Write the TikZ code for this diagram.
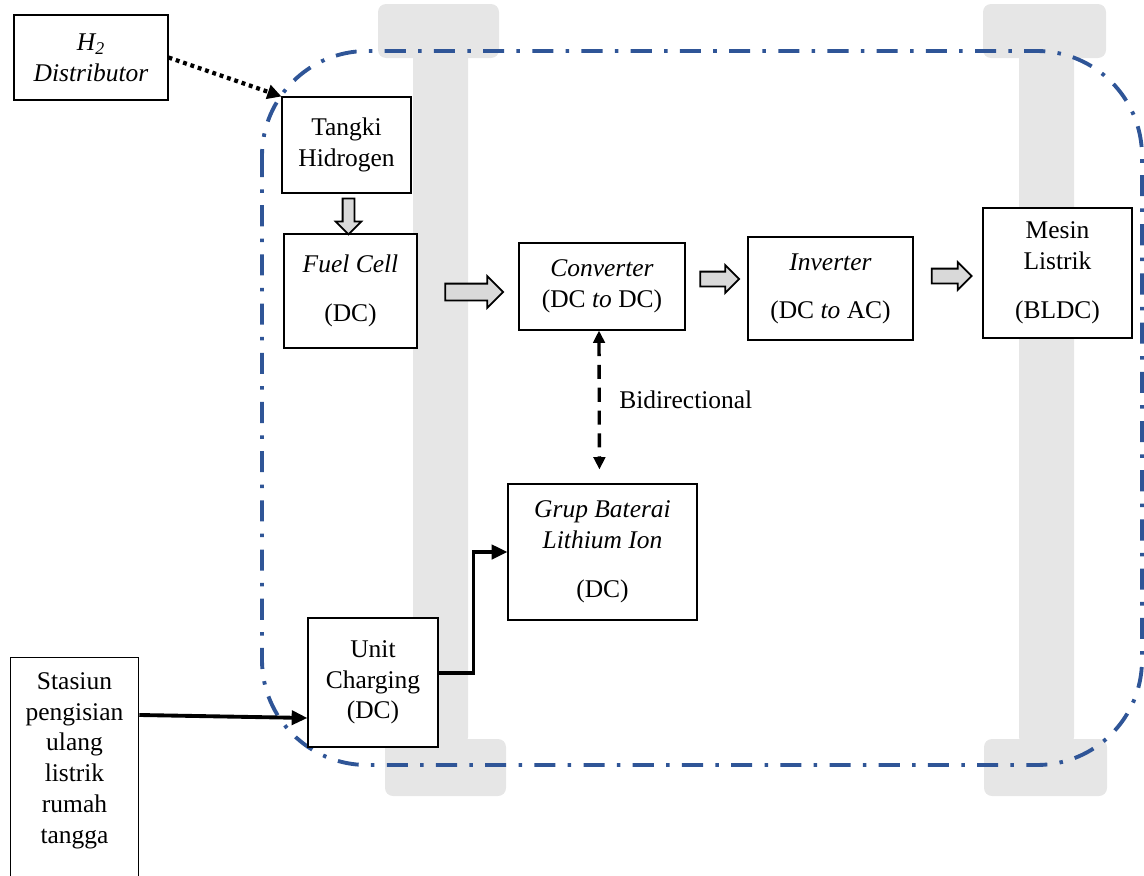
\documentclass[tikz,border=0pt]{standalone}
\usepackage{fontspec}
\setmainfont{Liberation Serif}
\usetikzlibrary{arrows.meta,positioning,calc,shapes.arrows}
\definecolor{axlegray}{RGB}{230,230,230}
\definecolor{frameblue}{RGB}{47,85,151}
\definecolor{flowgray}{RGB}{217,217,217}

\begin{document}
\begin{tikzpicture}[x=0.02cm, y=-0.02cm,
  box/.style={rectangle, draw=black, line width=0.6pt, fill=white, align=center,
    inner sep=2pt, font=\fontsize{14.5pt}{17.5pt}\selectfont},
  axle/.style={fill=axlegray, rounded corners=0.16cm},
  flow/.style={single arrow, draw=black, fill=flowgray, line width=1pt, inner xsep=0pt,
    inner ysep=0.15cm, minimum width=0pt, single arrow head extend=0.15cm},
  power/.style={-{Triangle[length=9pt,width=8pt]}, line width=2.2pt},
  bidir/.style={{Triangle[length=7pt,width=6.5pt]}-{Triangle[length=7pt,width=6.5pt]},
    line width=1.9pt, dash pattern=on 8pt off 5pt},
  supply/.style={-{Triangle[length=8pt,width=8pt]}, line width=2.4pt, dash pattern=on 2.2pt off 2.2pt},
  frame/.style={draw=frameblue, line width=2.2pt, rounded corners=2.1cm,
    dash pattern=on 12pt off 7pt on 2pt off 7pt},
  note/.style={font=\fontsize{14.5pt}{17.5pt}\selectfont}
]
\useasboundingbox (0,0) rectangle (1144,876);
\clip (0,0) rectangle (1144,876);

% axles
\fill[axle] (378,4) rectangle (499,58);
\fill[axle] (413,50) rectangle (468,745);
\fill[axle] (385,739) rectangle (506,796);
\fill[axle] (983,4) rectangle (1106,58);
\fill[axle] (1019,50) rectangle (1074,745);
\fill[axle] (984,739) rectangle (1107,796);

% vehicle outline
\draw[frame] (262,51) rectangle (1142,765);

\node[box, minimum width=3.08cm, minimum height=1.7cm] (dist) at (91,57.5) {\textit{H\textsubscript{2}}\\\textit{Distributor}};
\node[box, minimum width=2.58cm, minimum height=1.92cm] (tank) at (346.5,145) {Tangki\\Hidrogen};
\node[box, minimum width=2.66cm, minimum height=2.28cm] (fuel) at (350.5,291) {\textit{Fuel Cell}\\[0.36cm](DC)};
\node[box, minimum width=3.32cm, minimum height=1.74cm] (conv) at (602,286.5) {\textit{Converter}\\(DC \textit{to} DC)};
\node[box, minimum width=3.3cm, minimum height=2.06cm] (inv) at (830.5,288.5) {\textit{Inverter}\\[0.34cm](DC \textit{to} AC)};
\node[box, minimum width=2.98cm, minimum height=2.6cm] (motor) at (1057.5,273) {Mesin\\Listrik\\[0.36cm](BLDC)};
\node[box, minimum width=3.78cm, minimum height=2.72cm] (batt) at (602.5,552) {\textit{Grup Baterai}\\\textit{Lithium Ion}\\[0.36cm](DC)};
\node[box, minimum width=2.6cm, minimum height=2.58cm] (charge) at (373,682.5) {Unit\\Charging\\(DC)};
\node[box, text width=2.43cm, anchor=north, inner ysep=0.3cm] (station) at (74.5,657) {Stasiun\\pengisian\\ulang\\listrik\\rumah\\tangga\\[3cm]\mbox{}};

% power flow
\node[flow, shape border rotate=270, minimum height=0.72cm, inner xsep=0.1cm, inner ysep=0pt,
  single arrow head extend=0.14cm] (f1) at ($(tank.south)!0.5!(fuel.north)$) {};
\node[flow, minimum height=1.16cm] (f2) at (470,292) {};
\node[flow, minimum height=0.78cm, inner ysep=0.13cm, single arrow head extend=0.13cm] (f3) at (716,279) {};
\node[flow, minimum height=0.8cm, inner ysep=0.13cm, single arrow head extend=0.13cm] (f4) at (948,276) {};

\draw[supply] (dist.east) -- (tank.north west);
\draw[bidir, shorten >=0.28cm] ([xshift=-0.06cm]conv.south) -- ([xshift=-0.06cm]batt.north)
  node[note, midway, right, xshift=0.25cm, yshift=0.14cm] {Bidirectional};
\draw[power] ([yshift=-1.16cm]station.north east) -- ([yshift=-0.71cm]charge.west);
\draw[power] ([yshift=0.19cm]charge.east) -- ++(35,0) |- (batt.west);

\end{tikzpicture}
\end{document}
